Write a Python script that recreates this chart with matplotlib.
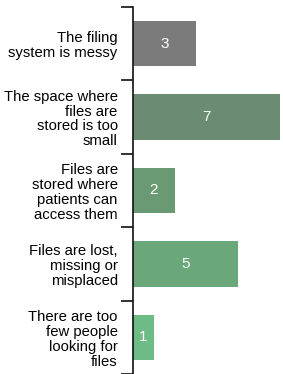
import matplotlib.pyplot as plt
import numpy as np

# data
categories = [
    "The filing\nsystem is messy",
    "The space where\nfiles are\nstored is too\nsmall",
    "Files are\nstored where\npatients can\naccess them",
    "Files are lost,\nmissing or\nmisplaced",
    "There are too\nfew people\nlooking for\nfiles",
]
values = [3, 7, 2, 5, 1]
colors = ["#7b7b7b", "#6b8c73", "#6a9a73", "#6aa879", "#6dbb85"]

plt.rcParams["font.family"] = ["Liberation Sans", "DejaVu Sans"]

W, H = 283, 374
fig = plt.figure(figsize=(W / 100, H / 100), dpi=100)
ax = fig.add_axes([133 / W, 0, 1 - 133 / W, (H - 7) / H])

pos = np.arange(len(values))
ax.barh(pos, values, height=0.62, color=colors)
for p, v in zip(pos, values):
    ax.text(v / 2, p, str(v), color="white", ha="center", va="center", fontsize=11)

ax.set_xlim(0, 150 / 21)
ax.set_ylim(4.5 - 3 / 74, -0.5)

# boundary ticks (major) and category labels (minor)
ax.set_yticks(np.arange(-0.5, len(values), 1.0))
ax.set_yticklabels([])
ax.tick_params(axis="y", which="major", length=9, width=1.2, color="#111111")
ax.set_yticks(pos, categories, minor=True)
ax.tick_params(axis="y", which="minor", length=0, pad=11, labelsize=10.7)
for lab in ax.get_yticklabels(minor=True):
    lab.set_multialignment("right")
    lab.set_linespacing(1.08)

ax.set_xticks([])
for s in ["top", "right", "bottom"]:
    ax.spines[s].set_visible(False)
ax.spines["left"].set_linewidth(1.2)
ax.spines["left"].set_color("#111111")

fig.savefig("out.png", dpi=100)
